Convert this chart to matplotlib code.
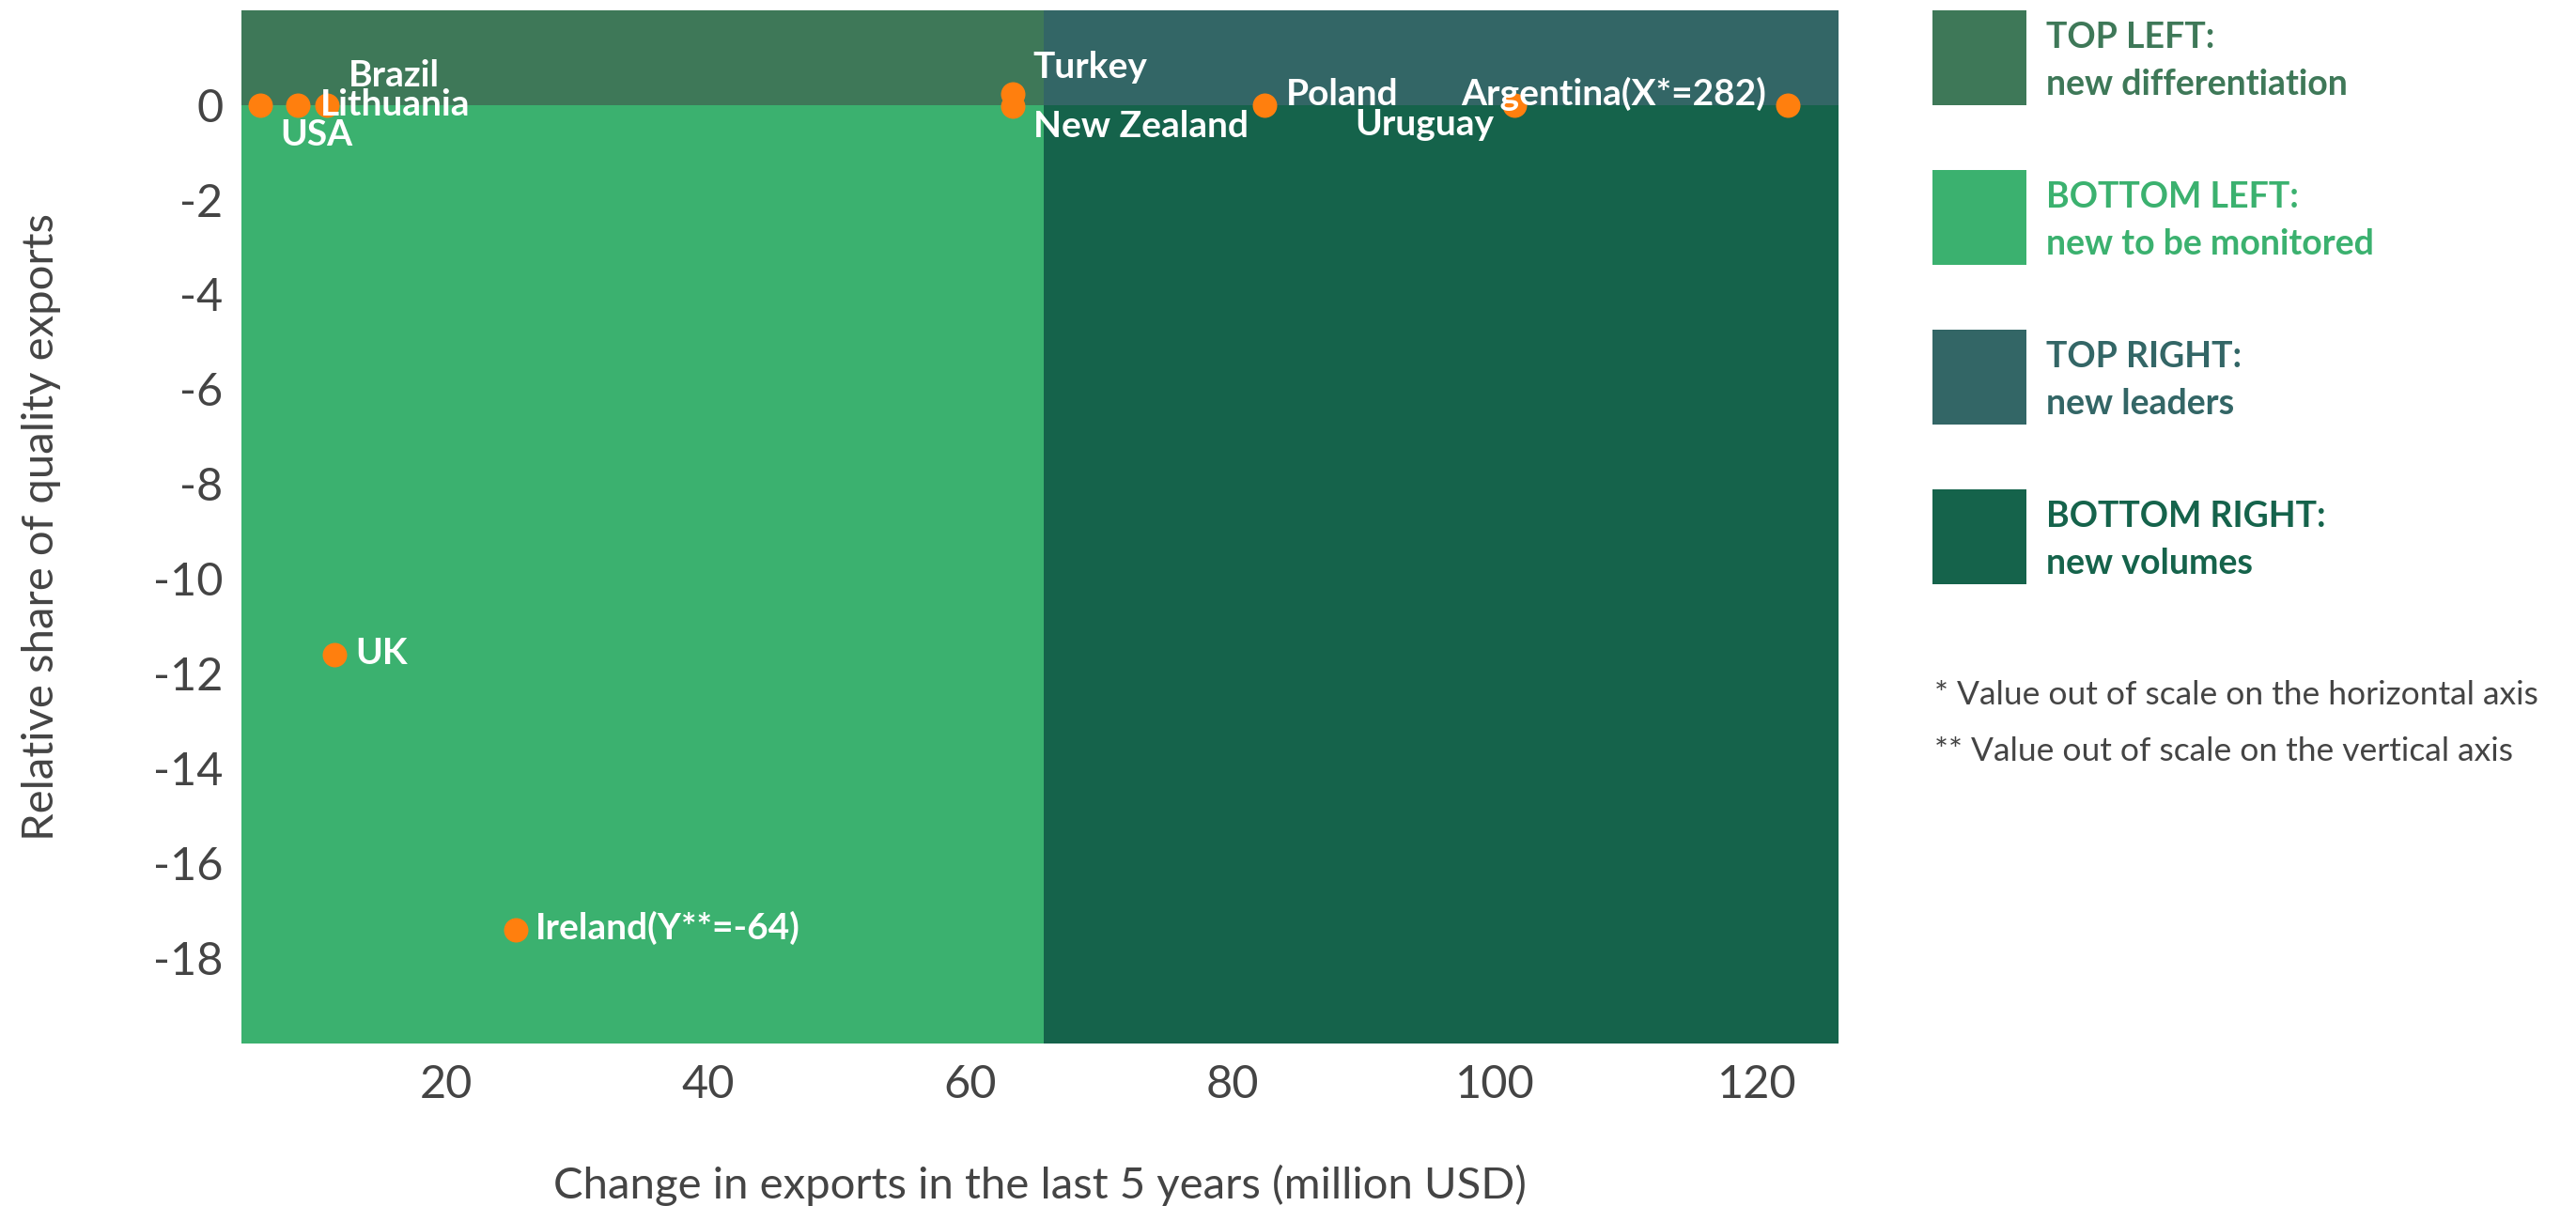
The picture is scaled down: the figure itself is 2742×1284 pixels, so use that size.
import matplotlib.pyplot as plt
from matplotlib.patches import Rectangle

plt.rcParams['font.family'] = ['Lato', 'DejaVu Sans']
plt.rcParams['axes.unicode_minus'] = False

# Data
countries = ['USA', 'Lithuania', 'Brazil', 'Turkey', 'New Zealand', 'Poland',
             'Uruguay', 'Argentina(X*=282)', 'UK', 'Ireland(Y**=-64)']
export_change = [5.8, 8.7, 10.9, 63.2, 63.2, 82.4, 101.5, 122.3, 11.5, 25.3]
quality_share = [0.0, 0.0, 0.0, 0.23, -0.03, 0.0, 0.0, 0.0, -11.6, -17.4]

x_range = [4.4, 126.2]
y_range = [-19.8, 2.0]
x_split = 65.6
y_split = 0

quadrants = ['TOP LEFT:', 'BOTTOM LEFT:', 'TOP RIGHT:', 'BOTTOM RIGHT:']
quadrant_names = ['new differentiation', 'new to be monitored', 'new leaders', 'new volumes']
quadrant_colors = ['#3e7858', '#3bb16f', '#336666', '#15634b']

notes = ['* Value out of scale on the horizontal axis',
         '** Value out of scale on the vertical axis']

# label placement: (dx px, dy px from dot to text baseline, ha)
label_pos = {
    'USA': (22, -43, 'left'),
    'Lithuania': (24, -11, 'left'),
    'Brazil': (23, 20, 'left'),
    'Turkey': (22, 17, 'left'),
    'New Zealand': (22, -33, 'left'),
    'Poland': (23, 0, 'left'),
    'Uruguay': (-22, -32, 'right'),
    'Argentina(X*=282)': (-22, 0, 'right'),
    'UK': (22, -10, 'left'),
    'Ireland(Y**=-64)': (21, -10, 'left'),
}

W, H = 2742, 1284
fig = plt.figure(figsize=(W / 100, H / 100), dpi=100)
ax = fig.add_axes([257 / W, 1 - 1111 / H, 1700 / W, 1100.4 / H])

# quadrant backgrounds
ax.add_patch(Rectangle((x_range[0], y_split), x_split - x_range[0], y_range[1] - y_split,
                       color=quadrant_colors[0], lw=0, zorder=0))
ax.add_patch(Rectangle((x_range[0], y_range[0]), x_split - x_range[0], y_split - y_range[0],
                       color=quadrant_colors[1], lw=0, zorder=0))
ax.add_patch(Rectangle((x_split, y_split), x_range[1] - x_split, y_range[1] - y_split,
                       color=quadrant_colors[2], lw=0, zorder=0))
ax.add_patch(Rectangle((x_split, y_range[0]), x_range[1] - x_split, y_split - y_range[0],
                       color=quadrant_colors[3], lw=0, zorder=0))

ax.scatter(export_change, quality_share, s=350, color='#ff7f0e', lw=0, zorder=3)

for name, x, y in zip(countries, export_change, quality_share):
    dx, dy, ha = label_pos[name]
    ax.annotate(name, (x, y), xytext=(dx * 0.72, dy * 0.72), textcoords='offset points',
                ha=ha, va='baseline', color='white', fontsize=28, fontweight='bold', zorder=4)

ax.set_xlim(x_range)
ax.set_ylim(y_range)
ax.set_xticks([20, 40, 60, 80, 100, 120])
ax.set_yticks(range(0, -19, -2))
ax.tick_params(length=0, labelsize=35, colors='#444444')
ax.tick_params(axis='x', pad=16)
ax.tick_params(axis='y', pad=14)
for s in ax.spines.values():
    s.set_visible(False)
ax.set_xlabel('Change in exports in the last 5 years (million USD)', fontsize=34,
              color='#444444', va='center')
ax.set_ylabel('Relative share of quality exports', fontsize=34, color='#444444', va='center')
ax.xaxis.set_label_coords(0.5, (1111 - 1262) / 1100.4)
ax.yaxis.set_label_coords((44 - 257) / 1700, 0.5)

# legend boxes
for i, (q, n, c) in enumerate(zip(quadrants, quadrant_names, quadrant_colors)):
    top = 11 + 170 * i
    fig.patches.append(Rectangle((2057 / W, 1 - (top + 101) / H), 100 / W, 101 / H,
                                 transform=fig.transFigure, color=c, lw=0))
    fig.text(2178 / W, 1 - (top + 29) / H, q, fontsize=27, fontweight='bold', color=c,
             ha='left', va='center')
    fig.text(2178 / W, 1 - (top + 79) / H, n, fontsize=27, fontweight='bold', color=c,
             ha='left', va='center')

for i, t in enumerate(notes):
    fig.text(2059 / W, 1 - (740 + 60 * i) / H, t, fontsize=25.5, color='#444444',
             ha='left', va='center')

plt.savefig('out.png', dpi=100)
